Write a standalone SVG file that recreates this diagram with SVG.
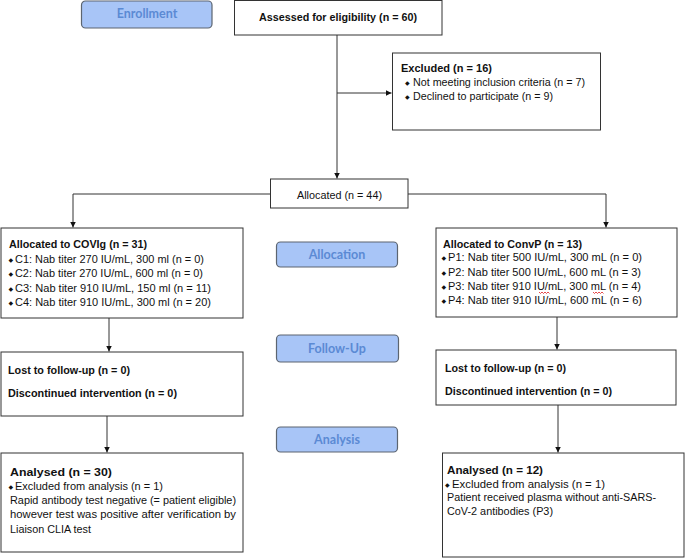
<svg xmlns="http://www.w3.org/2000/svg" width="685" height="560" viewBox="0 0 685 560">
<style>
.box{fill:#fff;stroke:#333;stroke-width:1}
.pill{fill:#a8c5f7;stroke:#5c6570;stroke-width:1.2}
.pt{font-family:Lato,"Open Sans",sans-serif;font-weight:bold;font-size:12.5px;fill:#5b8ad4;text-anchor:middle}
.t{font-family:"Liberation Sans",Arial,sans-serif;font-size:11px;fill:#111}
.b{font-weight:bold}
.bul{font-family:"DejaVu Sans",sans-serif;font-size:6px;fill:#111}
.ln{fill:none;stroke:#333;stroke-width:1}
.sq{fill:none;stroke:#e02020;stroke-width:0.8}
</style>
<defs>
<marker id="ah" viewBox="0 0 10 10" refX="10" refY="5" markerWidth="6" markerHeight="6" orient="auto" markerUnits="userSpaceOnUse">
<path d="M0,0 L10,5 L0,10 z" fill="#111"/>
</marker>
</defs>

<g id="connectors">
<path class="ln" d="M337,35 V178.5" marker-end="url(#ah)"/>
<path class="ln" d="M337,93 H391.5" marker-end="url(#ah)"/>
<path class="ln" d="M270,194 H73 V227.5" marker-end="url(#ah)"/>
<path class="ln" d="M408,194 H606 V227.5" marker-end="url(#ah)"/>
<path class="ln" d="M109,318 V351.5" marker-end="url(#ah)"/>
<path class="ln" d="M557,317 V349.5" marker-end="url(#ah)"/>
<path class="ln" d="M107,416 V452.5" marker-end="url(#ah)"/>
<path class="ln" d="M558,405 V452.5" marker-end="url(#ah)"/>
</g>

<g id="enrollment">
<rect class="pill" x="81.5" y="1" width="130.5" height="27" rx="4"/>
<text class="pt" x="147" y="18">Enrollment</text>
</g>

<g id="assessed">
<rect class="box" x="234.5" y="0.5" width="207.5" height="34.5"/>
<text class="t b" x="259" y="21" textLength="158" lengthAdjust="spacingAndGlyphs">Assessed for eligibility (n = 60)</text>
</g>

<g id="excluded">
<rect class="box" x="392.5" y="53" width="208" height="77"/>
<text class="t b" x="401" y="72" textLength="91" lengthAdjust="spacingAndGlyphs">Excluded (n = 16)</text>
<text class="bul" x="405" y="85">◆</text>
<text class="t" x="413" y="86" textLength="172" lengthAdjust="spacingAndGlyphs">Not meeting inclusion criteria (n = 7)</text>
<text class="bul" x="405" y="99">◆</text>
<text class="t" x="413" y="100" textLength="140" lengthAdjust="spacingAndGlyphs">Declined to participate (n = 9)</text>
</g>

<g id="allocated">
<rect class="box" x="270.5" y="179" width="137.5" height="29"/>
<text class="t" x="297" y="199" textLength="85" lengthAdjust="spacingAndGlyphs">Allocated (n = 44)</text>
</g>

<g id="allocation">
<rect class="pill" x="276.5" y="242" width="121" height="25" rx="4"/>
<text class="pt" x="337" y="259">Allocation</text>
</g>

<g id="covig">
<rect class="box" x="1" y="228" width="242" height="90"/>
<text class="t b" x="9" y="248" textLength="138" lengthAdjust="spacingAndGlyphs">Allocated to COVIg (n = 31)</text>
<text class="bul" x="8.5" y="262">◆</text>
<text class="t" x="15" y="263" textLength="189" lengthAdjust="spacingAndGlyphs">C1: Nab titer 270 IU/mL, 300 ml (n = 0)</text>
<text class="bul" x="8.5" y="276">◆</text>
<text class="t" x="15" y="277" textLength="188" lengthAdjust="spacingAndGlyphs">C2: Nab titer 270 IU/mL, 600 ml (n = 0)</text>
<text class="bul" x="8.5" y="291">◆</text>
<text class="t" x="15" y="292" textLength="196" lengthAdjust="spacingAndGlyphs">C3: Nab titer 910 IU/mL, 150 ml (n = 11)</text>
<text class="bul" x="8.5" y="305">◆</text>
<text class="t" x="15" y="306" textLength="196" lengthAdjust="spacingAndGlyphs">C4: Nab titer 910 IU/mL, 300 ml (n = 20)</text>
</g>

<g id="convp">
<rect class="box" x="436" y="228" width="241" height="89"/>
<text class="t b" x="443" y="248" textLength="139" lengthAdjust="spacingAndGlyphs">Allocated to ConvP (n = 13)</text>
<text class="bul" x="441.5" y="260">◆</text>
<text class="t" x="448" y="261" textLength="194" lengthAdjust="spacingAndGlyphs">P1: Nab titer 500 IU/mL, 300 mL (n = 0)</text>
<text class="bul" x="441.5" y="275">◆</text>
<text class="t" x="448" y="276" textLength="193" lengthAdjust="spacingAndGlyphs">P2: Nab titer 500 IU/mL, 600 mL (n = 3)</text>
<text class="bul" x="441.5" y="289">◆</text>
<text class="t" x="448" y="290" textLength="193" lengthAdjust="spacingAndGlyphs">P3: Nab titer 910 IU/mL, 300 mL (n = 4)</text>
<path class="sq" d="M539,292 l1.5,1.5 l1.5,-1.5 l1.5,1.5 l1.5,-1.5 l1.5,1.5 l1.5,-1.5 l1.5,1.5"/>
<path class="sq" d="M593,292 l1.5,1.5 l1.5,-1.5 l1.5,1.5 l1.5,-1.5 l1.5,1.5 l1.5,-1.5 l1.5,1.5"/>
<text class="bul" x="441.5" y="303">◆</text>
<text class="t" x="448" y="304" textLength="194" lengthAdjust="spacingAndGlyphs">P4: Nab titer 910 IU/mL, 600 mL (n = 6)</text>
</g>

<g id="followup">
<rect class="pill" x="276.5" y="335" width="122" height="27" rx="4"/>
<text class="pt" x="337" y="353">Follow-Up</text>
</g>

<g id="lost-covig">
<rect class="box" x="1" y="352" width="242" height="64"/>
<text class="t b" x="8" y="374" textLength="122" lengthAdjust="spacingAndGlyphs">Lost to follow-up (n = 0)</text>
<text class="t b" x="8" y="397" textLength="169" lengthAdjust="spacingAndGlyphs">Discontinued intervention (n = 0)</text>
</g>

<g id="lost-convp">
<rect class="box" x="436" y="350" width="240" height="55"/>
<text class="t b" x="445" y="372" textLength="121" lengthAdjust="spacingAndGlyphs">Lost to follow-up (n = 0)</text>
<text class="t b" x="445" y="395" textLength="167" lengthAdjust="spacingAndGlyphs">Discontinued intervention (n = 0)</text>
</g>

<g id="analysis">
<rect class="pill" x="276.5" y="427" width="121" height="25" rx="4"/>
<text class="pt" x="337" y="444">Analysis</text>
</g>

<g id="analysed-covig">
<rect class="box" x="1" y="453" width="242" height="99"/>
<text class="t b" x="10" y="476" textLength="102" lengthAdjust="spacingAndGlyphs">Analysed  (n = 30)</text>
<text class="bul" x="8.5" y="489">◆</text>
<text class="t" x="15" y="490" textLength="148" lengthAdjust="spacingAndGlyphs">Excluded from analysis (n = 1)</text>
<text class="t" x="10" y="504" textLength="226" lengthAdjust="spacingAndGlyphs">Rapid antibody test negative (= patient eligible)</text>
<text class="t" x="10" y="518" textLength="226" lengthAdjust="spacingAndGlyphs">however test was positive after verification by</text>
<text class="t" x="10" y="533" textLength="81" lengthAdjust="spacingAndGlyphs">Liaison CLIA test</text>
</g>

<g id="analysed-convp">
<rect class="box" x="442.5" y="453" width="241.5" height="104"/>
<text class="t b" x="447" y="474" textLength="96" lengthAdjust="spacingAndGlyphs">Analysed  (n = 12)</text>
<text class="bul" x="445" y="487">◆</text>
<text class="t" x="452" y="488" textLength="153" lengthAdjust="spacingAndGlyphs">Excluded from analysis (n = 1)</text>
<text class="t" x="447" y="501" textLength="209" lengthAdjust="spacingAndGlyphs">Patient received plasma without anti-SARS-</text>
<text class="t" x="447" y="515" textLength="106" lengthAdjust="spacingAndGlyphs">CoV-2 antibodies (P3)</text>
</g>
</svg>
